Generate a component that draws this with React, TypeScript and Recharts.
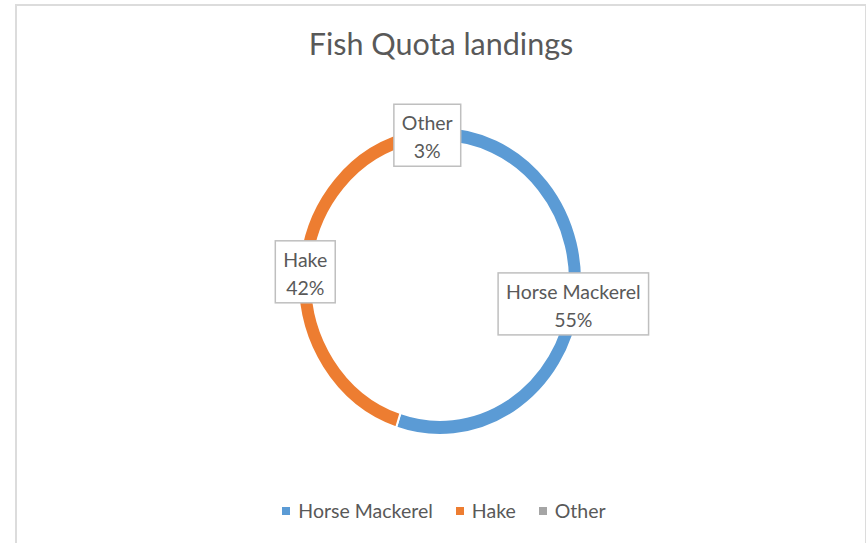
import { PieChart, Pie, Cell, Sector, Legend } from "recharts";

const categories = ["Horse Mackerel", "Hake", "Other"];
const shares = [55, 42, 3];
const colors = ["#5B9BD5", "#ED7D31", "#A5A5A5"];

const data = categories.map((name, i) => ({ name, value: shares[i] }));

const W = 848;
const H = 539;
// recharts adds its 5px margin to numeric cx/cy
const CX = 418;
const CY = 270;
// the original ring is a bit taller than wide
const SY = 154 / 142;
const RAD = Math.PI / 180;

const FONT = "Lato, 'Open Sans', sans-serif";
const TEXT = "#595959";
const LABEL_SIZE = 19.5;

let ctx: CanvasRenderingContext2D | null = null;
const measure = (s: string, size: number) => {
  if (!ctx) ctx = document.createElement("canvas").getContext("2d");
  if (!ctx) return s.length * size * 0.5;
  ctx.font = `${size}px Lato`;
  return ctx.measureText(s).width;
};

const renderSector = (p: any) => (
  <g transform={`translate(${p.cx} ${p.cy}) scale(1 ${SY}) translate(${-p.cx} ${-p.cy})`}>
    <Sector {...p} />
  </g>
);

const renderLabel = (p: any) => {
  const r = (p.innerRadius + p.outerRadius) / 2;
  const x = p.cx + r * Math.cos(-p.midAngle * RAD);
  const y = p.cy + r * Math.sin(-p.midAngle * RAD) * SY;
  const name = p.name ?? p.payload?.name;
  const pct = `${Math.round(p.percent * 100)}%`;
  const w = Math.max(measure(name, LABEL_SIZE), measure(pct, LABEL_SIZE)) + 16;
  const h = 62;
  return (
    <g>
      <rect
        x={x - w / 2}
        y={y - h / 2}
        width={w}
        height={h}
        fill="#fff"
        stroke="#BFBFBF"
        strokeWidth={1.5}
      />
      <text x={x} y={y - 5} textAnchor="middle" fill={TEXT} fontSize={LABEL_SIZE} fontFamily={FONT}>
        {name}
      </text>
      <text x={x} y={y + 23} textAnchor="middle" fill={TEXT} fontSize={LABEL_SIZE} fontFamily={FONT}>
        {pct}
      </text>
    </g>
  );
};

const renderLegend = (props: any) => {
  const items = [...(props.payload || [])].sort(
    (a: any, b: any) => categories.indexOf(a.value) - categories.indexOf(b.value)
  );
  return (
    <div
      style={{
        display: "flex",
        justifyContent: "center",
        alignItems: "center",
        fontFamily: FONT,
        fontSize: LABEL_SIZE,
        color: TEXT,
        paddingLeft: 6,
      }}
    >
      {items.map((item: any, i: number) => (
        <span
          key={item.value}
          style={{
            display: "flex",
            alignItems: "center",
            marginRight: i < items.length - 1 ? 23 : 0,
          }}
        >
          <span
            style={{
              display: "inline-block",
              width: 8,
              height: 8,
              background: item.color,
              marginRight: 8,
            }}
          />
          {item.value}
        </span>
      ))}
    </div>
  );
};

const App = () => {
  return (
    <div
      style={{
        position: "absolute",
        left: 15,
        top: 4,
        width: W,
        height: H + 10,
        border: "2px solid #DCDCDC",
        background: "#fff",
      }}
    >
      <div
        style={{
          position: "absolute",
          top: 19,
          left: 0,
          width: W,
          textAlign: "center",
          fontFamily: FONT,
          fontSize: 30.5,
          lineHeight: "36px",
          color: TEXT,
        }}
      >
        Fish Quota landings
      </div>
      <PieChart width={W} height={H}>
        <Pie
          data={data}
          dataKey="value"
          nameKey="name"
          cx={CX}
          cy={CY}
          innerRadius={128}
          outerRadius={142}
          startAngle={90}
          endAngle={-270}
          stroke="#fff"
          strokeWidth={2}
          shape={renderSector}
          label={renderLabel}
          labelLine={false}
          isAnimationActive={false}
        >
          {data.map((d, i) => (
            <Cell key={d.name} fill={colors[i]} />
          ))}
        </Pie>
        <Legend
          content={renderLegend}
          itemSorter={null}
          wrapperStyle={{ top: 493, left: 0, width: W }}
        />
      </PieChart>
    </div>
  );
};

export default App;
